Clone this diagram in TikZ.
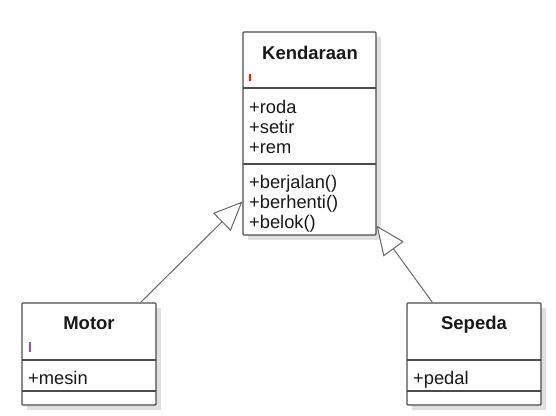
\documentclass[tikz,border=0pt]{standalone}
\usepackage{fontspec}
\setmainfont{Liberation Sans}
\usetikzlibrary{arrows.meta,calc}
\begin{document}
\begin{tikzpicture}[x=1pt,y=-1pt,
  classbox/.style={draw=black!70,line width=1.2pt,rounded corners=1pt,fill=white,minimum width=#1,inner sep=0pt},
  shadowbox/.style={fill=black!12,draw=none},
  divider/.style={draw=black!70,line width=1.2pt},
  cname/.style={anchor=base,font=\fontsize{18.5}{20}\selectfont\bfseries,inner sep=0pt,text=black!90},
  member/.style={anchor=base west,font=\fontsize{18.3}{20}\selectfont,inner sep=0pt,text=black!90},
  tickmark/.style={line width=2pt},
  gen/.style={draw=black!60,line width=1pt,-{Triangle[open,length=29pt,width=25pt,fill=white]}}]
\useasboundingbox (0,0) rectangle (556,415);
% shadows
\fill[shadowbox] (248,37) rectangle (381,240);
\fill[shadowbox] (27,308) rectangle (161,410);
\fill[shadowbox] (412,308) rectangle (546,410);
% boxes
\node[classbox=133pt,minimum height=203pt] (K) at (309.5,133.5) {};
\node[classbox=134pt,minimum height=102pt] (M) at (89,354) {};
\node[classbox=134pt,minimum height=102pt] (S) at (474,354) {};
% dividers
\draw[divider] (243,88) -- (376,88);
\draw[divider] (243,164) -- (376,164);
\draw[divider] (22,360) -- (156,360);
\draw[divider] (22,391) -- (156,391);
\draw[divider] (407,360) -- (541,360);
\draw[divider] (407,391) -- (541,391);
% texts
\node[cname] (kn) at (310,59) {Kendaraan};
\node[member] (k1) at (249,113) {+roda};
\node[member] (k2) at (249,133) {+setir};
\node[member] (k3) at (249,153.5) {+rem};
\node[member] (k4) at (249,188) {+berjalan()};
\node[member] (k5) at (249,208) {+berhenti()};
\node[member] (k6) at (249,228) {+belok()};
\node[cname] (mn) at (89,329) {Motor};
\node[member] (m1) at (28,384) {+mesin};
\node[cname] (sn) at (474,329) {Sepeda};
\node[member] (s1) at (413,384) {+pedal};
% small marks
\draw[tickmark,red!85!orange] (249.5,74) -- (249.5,81);
\draw[tickmark,violet!70] (29.5,342) -- (29.5,352);
% generalizations
\coordinate (mstart) at ($(M.north east)+(-16,0)$);
\coordinate (ktip1) at ($(K.south west)+(0,-34)$);
\coordinate (sstart) at ($(S.north west)+(26,0)$);
\coordinate (ktip2) at ($(K.south east)+(0,-10)$);
\draw[gen] (mstart) -- (ktip1);
\draw[gen] (sstart) -- (ktip2);
\end{tikzpicture}
\end{document}
